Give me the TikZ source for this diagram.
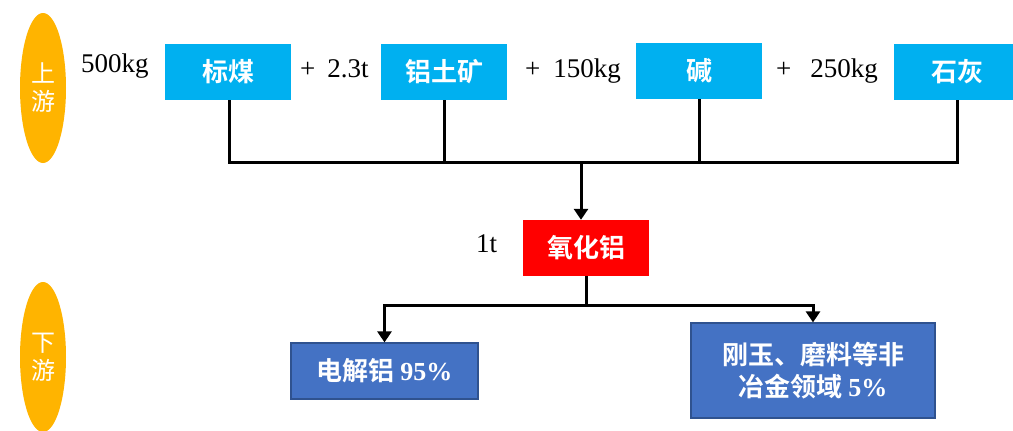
\documentclass[tikz,border=0pt]{standalone}
\usepackage{fontspec}
\setmainfont{Liberation Serif}
\newfontfamily\cjk{Noto Sans CJK SC}[BoldFont={Noto Sans CJK SC Bold}]
\usetikzlibrary{shapes.geometric,arrows.meta}
\definecolor{cyanbox}{HTML}{00B0F0}
\definecolor{bluebox}{HTML}{4472C4}
\definecolor{blueedge}{HTML}{2F528F}
\definecolor{orangeel}{HTML}{FFB400}
\tikzset{
  stage/.style={ellipse, fill=orangeel, minimum width=46pt, minimum height=150pt, inner sep=0pt,
    text=white, align=center, font=\cjk\fontsize{24}{28}\selectfont},
  rawbox/.style={rectangle, fill=cyanbox, minimum width=126pt, minimum height=56pt, inner sep=0pt,
    text=white, font=\cjk\bfseries\fontsize{26}{30}\selectfont},
  oxbox/.style={rectangle, fill=red, minimum width=126pt, minimum height=56pt, inner sep=0pt,
    text=white, font=\cjk\bfseries\fontsize{26}{30}\selectfont},
  usebox/.style={rectangle, fill=bluebox, draw=blueedge, line width=1.2pt, inner sep=0pt,
    text=white, align=center, font=\cjk\bfseries\fontsize{26}{32}\selectfont},
  qty/.style={inner sep=0pt, anchor=base west, font=\fontsize{27}{30}\selectfont},
  wire/.style={line width=3pt, black},
  feed/.style={wire, -{Triangle[length=11pt,width=14pt]}},
}
\begin{document}
\begin{tikzpicture}[x=1pt,y=-1pt]
\useasboundingbox (0,0) rectangle (1013,431);
\fill[white] (0,0) rectangle (1013,431);
% stages
\node[stage] (up) at (43,88) {上\\游};
\node[stage] (down) at (43,357) {下\\游};
% raw materials
\node[qty] (q1) at (81,72) {500kg};
\node[rawbox] (b1) at (228,72) {标煤};
\node[qty] (q2) at (300,77) {+\hspace{12pt}2.3t};
\node[rawbox] (b2) at (444,72) {铝土矿};
\node[qty] (q3) at (525,77) {+\hspace{13pt}150kg};
\node[rawbox] (b3) at (699,71) {碱};
\node[qty] (q4) at (776,77) {+\hspace{19pt}250kg};
\node[rawbox] (b4) at (957,72) {石灰};
% alumina
\node[oxbox] (ox) at (586,248) {氧化铝};
\node[qty] (q5) at (476,252) {1t};
% uses
\node[usebox, minimum width=187pt, minimum height=56pt] (u1) at (384.5,371) {电解铝 {\rmfamily\bfseries 95\%}};
\node[usebox, minimum width=244pt, minimum height=95pt] (u2) at (813,370.5) {刚玉、磨料等非\\冶金领域 {\rmfamily\bfseries 5\%}};
% connectors top
\coordinate (busL) at (229,162);
\coordinate (busR) at (957,162);
\coordinate (j) at (581,162);
\draw[wire] (b1.south -| busL) -- (busL) -- (busR) -- (b4.south -| busR);
\draw[wire] (b2.south) -- (b2.south |- busL);
\draw[wire] (b3.south) -- (b3.south |- busL);
\draw[feed] (j) -- (j |- ox.north);
% connectors bottom
\coordinate (k) at (586,305);
\coordinate (kL) at (384.5,305);
\coordinate (kR) at (813,305);
\draw[wire] (ox.south) -- (k);
\draw[wire, line cap=rect] (kL) -- (kR);
\draw[feed] (kL) -- (u1.north);
\draw[feed] (kR) -- (u2.north);
\end{tikzpicture}
\end{document}
